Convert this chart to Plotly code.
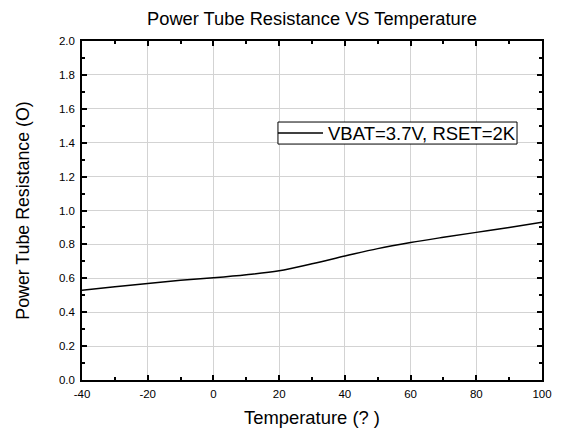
import plotly.graph_objects as go

temperature = [-40, -30, -20, -10, 0, 10, 20, 30, 40, 50, 60, 70, 80, 90, 100]
resistance = [0.530, 0.550, 0.570, 0.588, 0.603, 0.621, 0.645, 0.686, 0.731, 0.775, 0.811, 0.842, 0.871, 0.900, 0.930]
series_name = "VBAT=3.7V, RSET=2K"

x_ticks = [-40, -20, 0, 20, 40, 60, 80, 100]
y_ticks = [0.0, 0.2, 0.4, 0.6, 0.8, 1.0, 1.2, 1.4, 1.6, 1.8, 2.0]

FONT = "Liberation Sans, Arial"

fig = go.Figure()
fig.add_trace(go.Scatter(
    x=temperature, y=resistance, mode="lines",
    line=dict(color="black", width=1.5, shape="spline"),
    name=series_name, showlegend=False,
))

axis_common = dict(
    showline=True, linecolor="black", linewidth=1.5, mirror="ticks",
    ticks="inside", ticklen=5, tickwidth=1.5, tickcolor="black",
    showgrid=True, gridcolor="#d3d3d3", gridwidth=1, zeroline=False,
    tickfont=dict(family=FONT, size=11.5, color="black"),
    automargin=False,
)

fig.update_xaxes(
    range=[-40, 100], tickvals=x_ticks, ticktext=[str(v) for v in x_ticks],
    minor=dict(dtick=10, ticks="inside", ticklen=3, tickwidth=1.5, tickcolor="black", showgrid=False),
    ticklabelstandoff=2,
    title=dict(text="Temperature (? )", font=dict(family=FONT, size=18.4, color="black"), standoff=13),
    **axis_common,
)
fig.update_yaxes(
    range=[0, 2.0], tickvals=y_ticks, ticktext=[f"{v:.1f}" for v in y_ticks],
    minor=dict(dtick=0.1, ticks="inside", ticklen=3, tickwidth=1.5, tickcolor="black", showgrid=False),
    ticklabelstandoff=3,
    title=dict(text="Power Tube Resistance (O)", font=dict(family=FONT, size=17.8, color="black"), standoff=25),
    **axis_common,
)

# legend box (drawn like the original's framed legend)
fig.add_shape(type="rect", xref="paper", yref="paper", x0=0.426, x1=0.9457, y0=0.696, y1=0.761,
              line=dict(color="black", width=1), fillcolor="white", layer="above")
fig.add_shape(type="line", xref="paper", yref="paper", x0=0.426, x1=0.524, y0=0.7286, y1=0.7286,
              line=dict(color="black", width=1.5), layer="above")
fig.add_annotation(xref="paper", yref="paper", x=0.531, y=0.7286, xanchor="left", yanchor="middle",
                   text=series_name, showarrow=False,
                   font=dict(family=FONT, size=18.5, color="black"))

fig.update_layout(
    width=555, height=424,
    margin=dict(l=74, r=21, t=33, b=52),
    paper_bgcolor="white", plot_bgcolor="white",
    title=dict(text="Power Tube Resistance VS Temperature", x=0.5, xref="paper", xanchor="center",
               y=1 - 10.5 / 424, yref="container", yanchor="middle",
               font=dict(family=FONT, size=18.3, color="black")),
    showlegend=False,
)

fig.write_html("out.html")
